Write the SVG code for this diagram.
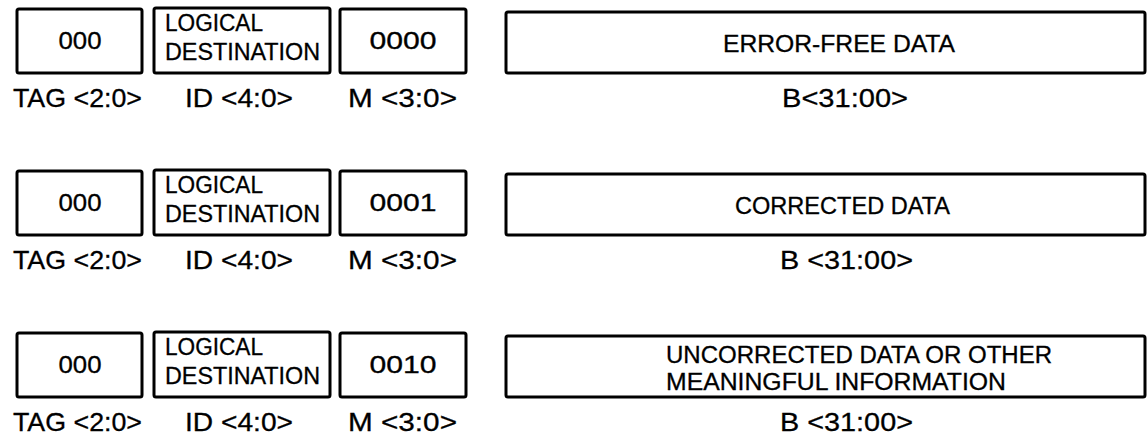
<svg xmlns="http://www.w3.org/2000/svg" width="1148" height="434" viewBox="0 0 1148 434">
<style>
rect.f{fill:#fff;stroke:#000;stroke-width:3;rx:2}
text{font-family:"Liberation Sans",Arial,sans-serif;font-size:23px;fill:#000;stroke:#000;stroke-width:0.3}
.c{text-anchor:middle}
.l{font-size:25px}
</style>
<rect width="1148" height="434" fill="#fff"/>
<g id="row1">
<g id="r1-tag"><rect class="f" x="17" y="9" width="125" height="64"/><text class="c" x="80" y="49" textLength="43" lengthAdjust="spacingAndGlyphs">000</text><text class="l" x="13" y="107" textLength="129" lengthAdjust="spacingAndGlyphs">TAG &lt;2:0&gt;</text></g>
<g id="r1-id"><rect class="f" x="154" y="8" width="176" height="65"/><text x="165" y="31" textLength="98" lengthAdjust="spacingAndGlyphs">LOGICAL</text><text x="165" y="60" textLength="155" lengthAdjust="spacingAndGlyphs">DESTINATION</text><text class="l" x="185" y="107" textLength="108" lengthAdjust="spacingAndGlyphs">ID &lt;4:0&gt;</text></g>
<g id="r1-m"><rect class="f" x="340" y="9" width="126" height="64"/><text class="c" x="403" y="49" textLength="67" lengthAdjust="spacingAndGlyphs">0000</text><text class="l" x="348" y="107" textLength="109" lengthAdjust="spacingAndGlyphs">M &lt;3:0&gt;</text></g>
<g id="r1-b"><rect class="f" x="506" y="12" width="639" height="61"/><text x="723" y="52" textLength="232" lengthAdjust="spacingAndGlyphs">ERROR-FREE DATA</text><text class="l" x="782" y="107" textLength="126" lengthAdjust="spacingAndGlyphs">B&lt;31:00&gt;</text></g>
</g>
<g id="row2" transform="translate(0,162)">
<g id="r2-tag"><rect class="f" x="17" y="9" width="125" height="64"/><text class="c" x="80" y="49" textLength="43" lengthAdjust="spacingAndGlyphs">000</text><text class="l" x="13" y="107" textLength="129" lengthAdjust="spacingAndGlyphs">TAG &lt;2:0&gt;</text></g>
<g id="r2-id"><rect class="f" x="154" y="8" width="176" height="65"/><text x="165" y="31" textLength="98" lengthAdjust="spacingAndGlyphs">LOGICAL</text><text x="165" y="60" textLength="155" lengthAdjust="spacingAndGlyphs">DESTINATION</text><text class="l" x="185" y="107" textLength="108" lengthAdjust="spacingAndGlyphs">ID &lt;4:0&gt;</text></g>
<g id="r2-m"><rect class="f" x="340" y="9" width="126" height="64"/><text class="c" x="403" y="49" textLength="67" lengthAdjust="spacingAndGlyphs">0001</text><text class="l" x="348" y="107" textLength="109" lengthAdjust="spacingAndGlyphs">M &lt;3:0&gt;</text></g>
<g id="r2-b"><rect class="f" x="506" y="12" width="639" height="61"/><text x="735" y="52" textLength="215" lengthAdjust="spacingAndGlyphs">CORRECTED DATA</text><text class="l" x="780" y="107" textLength="133" lengthAdjust="spacingAndGlyphs">B &lt;31:00&gt;</text></g>
</g>
<g id="row3" transform="translate(0,324)">
<g id="r3-tag"><rect class="f" x="17" y="9" width="125" height="64"/><text class="c" x="80" y="49" textLength="43" lengthAdjust="spacingAndGlyphs">000</text><text class="l" x="13" y="107" textLength="129" lengthAdjust="spacingAndGlyphs">TAG &lt;2:0&gt;</text></g>
<g id="r3-id"><rect class="f" x="154" y="8" width="176" height="65"/><text x="165" y="31" textLength="98" lengthAdjust="spacingAndGlyphs">LOGICAL</text><text x="165" y="60" textLength="155" lengthAdjust="spacingAndGlyphs">DESTINATION</text><text class="l" x="185" y="107" textLength="108" lengthAdjust="spacingAndGlyphs">ID &lt;4:0&gt;</text></g>
<g id="r3-m"><rect class="f" x="340" y="9" width="126" height="64"/><text class="c" x="403" y="49" textLength="67" lengthAdjust="spacingAndGlyphs">0010</text><text class="l" x="348" y="107" textLength="109" lengthAdjust="spacingAndGlyphs">M &lt;3:0&gt;</text></g>
<g id="r3-b"><rect class="f" x="506" y="12" width="639" height="61"/><text x="666" y="39" textLength="386" lengthAdjust="spacingAndGlyphs">UNCORRECTED DATA OR OTHER</text><text x="666" y="66" textLength="340" lengthAdjust="spacingAndGlyphs">MEANINGFUL INFORMATION</text><text class="l" x="780" y="107" textLength="133" lengthAdjust="spacingAndGlyphs">B &lt;31:00&gt;</text></g>
</g>
<g id="connectors"/>
</svg>
